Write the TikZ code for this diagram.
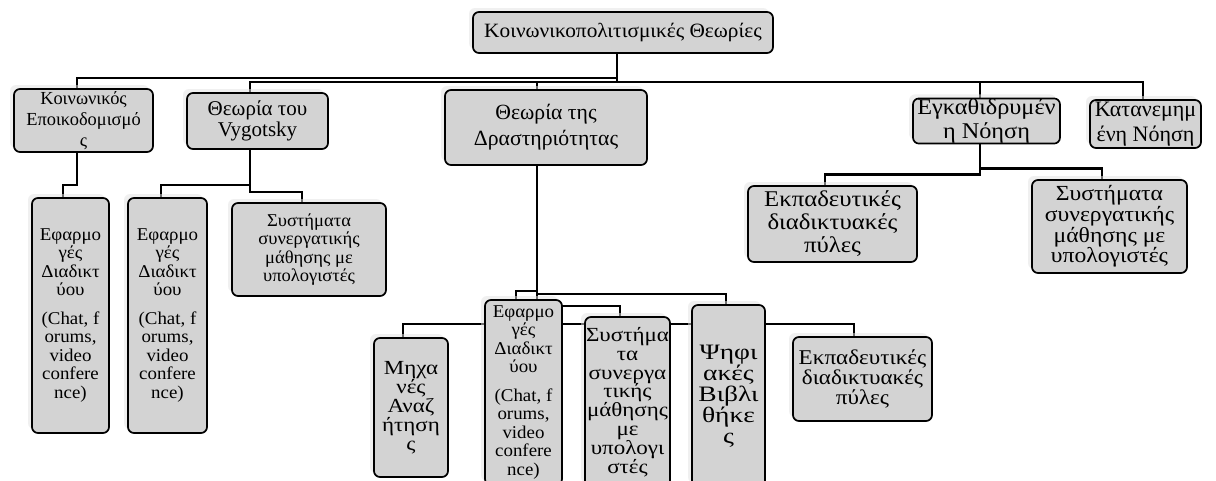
\documentclass[tikz,border=0pt]{standalone}
\usepackage{fontspec}
\setmainfont{Liberation Serif}
% the same serif, widened by different amounts
\newfontfamily\sA[FakeStretch=1.03]{Liberation Serif}
\newfontfamily\sB[FakeStretch=1.05]{Liberation Serif}
\newfontfamily\sC[FakeStretch=1.08]{Liberation Serif}
\newfontfamily\sD[FakeStretch=1.10]{Liberation Serif}
\newfontfamily\sF[FakeStretch=1.15]{Liberation Serif}
\newfontfamily\sG[FakeStretch=1.25]{Liberation Serif}
\usetikzlibrary{shadows}
\pgfdeclarelayer{paper}
\pgfdeclarelayer{wires}
\pgfsetlayers{paper,wires,main}
\definecolor{boxfill}{RGB}{211,211,211}
\definecolor{glow}{RGB}{226,226,226}
\newcommand\fz[2]{\fontsize{#1}{#2}\selectfont}
\tikzset{
  box/.style={draw=black, line width=1.7pt, rounded corners=6pt, fill=boxfill,
    align=center, inner sep=0pt,
    drop shadow={shadow xshift=-4pt, shadow yshift=4pt, fill=glow, draw=none}},
  conn/.style={draw=black, line width=2.2pt}
}
\begin{document}
\begin{tikzpicture}[x=1pt, y=-1pt]
\useasboundingbox (0,0) rectangle (1216,480);
\clip (0,0) rectangle (1216,480);
\begin{pgfonlayer}{paper}
\fill[white] (0,0) rectangle (1216,480);
\end{pgfonlayer}

% top level
\node[box, minimum width=300pt, minimum height=41pt, font=\sB\fz{20.3}{23}] (root) at (623,32.5) {Κοινωνικοπολιτισμικές Θεωρίες};

% second level
\node[box, minimum width=139pt, minimum height=63pt, font=\fz{18.4}{21}] (koin) at (83.5,120.5) {Κοινωνικός\\Εποικοδομισμό\\ς};
\node[box, minimum width=141pt, minimum height=56pt, font=\fz{21}{21.5}] (vyg) at (257.5,121) {Θεωρία του\\Vygotsky};
\node[box, minimum width=202pt, minimum height=75pt, font=\fz{21.7}{26}] (act) at (546,127.5) {Θεωρία της\\Δραστηριότητας};
\node[box, minimum width=147pt, minimum height=44pt, font=\sC\fz{22.5}{24.5}] (egk) at (986.5,121) {Εγκαθιδρυμέν\\η Νόηση};
\node[box, minimum width=111pt, minimum height=48pt, font=\fz{22}{24.5}] (kat) at (1145.5,124) {Κατανεμημ\\ένη Νόηση};

% third level
\node[box, minimum width=77pt, minimum height=235pt, font=\sB\fz{18}{18.5}] (efa1) at (70.5,315.5)
  {Εφαρμο\\γές\\Διαδικτ\\ύου\\[10pt](Chat, f\\orums,\\video\\confere\\nce)};
\node[box, minimum width=79pt, minimum height=235pt, font=\sB\fz{18}{18.5}] (efa2) at (167.5,315.5)
  {Εφαρμο\\γές\\Διαδικτ\\ύου\\[10pt](Chat, f\\orums,\\video\\confere\\nce)};
\node[box, minimum width=154pt, minimum height=93pt, font=\sA\fz{18}{18.5}] (sys1) at (309,249.5)
  {Συστήματα\\συνεργατικής\\μάθησης με\\υπολογιστές};

\node[box, minimum width=74pt, minimum height=139pt, font=\sF\fz{20}{19}] (mix) at (411,407.5)
  {Μηχα\\νές\\Αναζ\\ήτηση\\ς};
\node[box, minimum width=77pt, minimum height=185pt, font=\sB\fz{18}{18.5}] (efa3) at (523.5,392.5)
  {Εφαρμο\\γές\\Διαδικτ\\ύου\\[10pt](Chat, f\\orums,\\video\\confere\\nce)};
\node[box, minimum width=85pt, minimum height=170pt, font=\sF\fz{20}{18.8}] (sys3) at (627.5,402)
  {Συστήμα\\τα\\συνεργα\\τικής\\μάθησης\\με\\υπολογι\\στές};
\node[box, minimum width=73pt, minimum height=182pt, font=\sG\fz{22}{21}] (psi) at (728.5,396)
  {Ψηφι\\ακές\\Βιβλι\\θήκε\\ς};
\node[box, minimum width=139pt, minimum height=84pt, font=\sD\fz{21}{20}] (ekp3) at (862.5,379)
  {Εκπαδευτικές\\διαδικτυακές\\πύλες};

\node[box, minimum width=169pt, minimum height=76pt, font=\sD\fz{22.5}{23}] (ekp2) at (832.5,224)
  {Εκπαδευτικές\\διαδικτυακές\\πύλες};
\node[box, minimum width=155pt, minimum height=93pt, font=\sD\fz{21.5}{20.6}] (sys2) at (1109.5,226.5)
  {Συστήματα\\συνεργατικής\\μάθησης με\\υπολογιστές};

% connectors, beneath the boxes
\begin{pgfonlayer}{wires}
\draw[conn] ([xshift=-6pt]root.south) -- ++(0,24) -| ([xshift=-6.5pt]koin.north);
\draw[conn] ([xshift=-6pt]root.south) -- ++(0,28) -| ([xshift=-7.5pt]vyg.north);
\draw[conn] ([xshift=-6pt]root.south) -- ++(0,28) -| ([xshift=-9pt]act.north);
\draw[conn] ([xshift=-6pt]root.south) -- ++(0,28) -| ([xshift=-6.5pt]egk.north);
\draw[conn] ([xshift=-6pt]root.south) -- ++(0,28) -| ([xshift=-2.5pt]kat.north);

\draw[conn] ([xshift=-6.5pt]koin.south) -- ++(0,32) -| ([xshift=-7.5pt]efa1.north);
\draw[conn] ([xshift=-7.5pt]vyg.south) -- ++(0,35) -| ([xshift=-6.5pt]efa2.north);
\draw[conn] ([xshift=-7.5pt]vyg.south) -- ++(0,42) -| ([xshift=-7pt]sys1.north);

\draw[conn] ([xshift=-9pt]act.south) -- ++(0,125) -| ([xshift=-7.5pt]efa3.north);
\draw[conn] ([xshift=-9pt]act.south) -- ++(0,128) -| ([xshift=-2.5pt]psi.north);
\draw[conn] ([xshift=-9pt]act.south) -- ++(0,140) -| ([xshift=-7.5pt]sys3.north);
\draw[conn] ([xshift=-9pt]act.south) -- ++(0,158) -| ([xshift=-8pt]mix.north);
\draw[conn] ([xshift=-9pt]act.south) -- ++(0,158) -| ([xshift=-8.5pt]ekp3.north);

\draw[conn] ([xshift=-6.5pt]egk.south) -- ++(0,30) -| ([xshift=-7.5pt]ekp2.north);
\draw[conn] ([xshift=-6.5pt]egk.south) -- ++(0,24) -| ([xshift=-7.5pt]sys2.north);
\end{pgfonlayer}
\end{tikzpicture}
\end{document}
